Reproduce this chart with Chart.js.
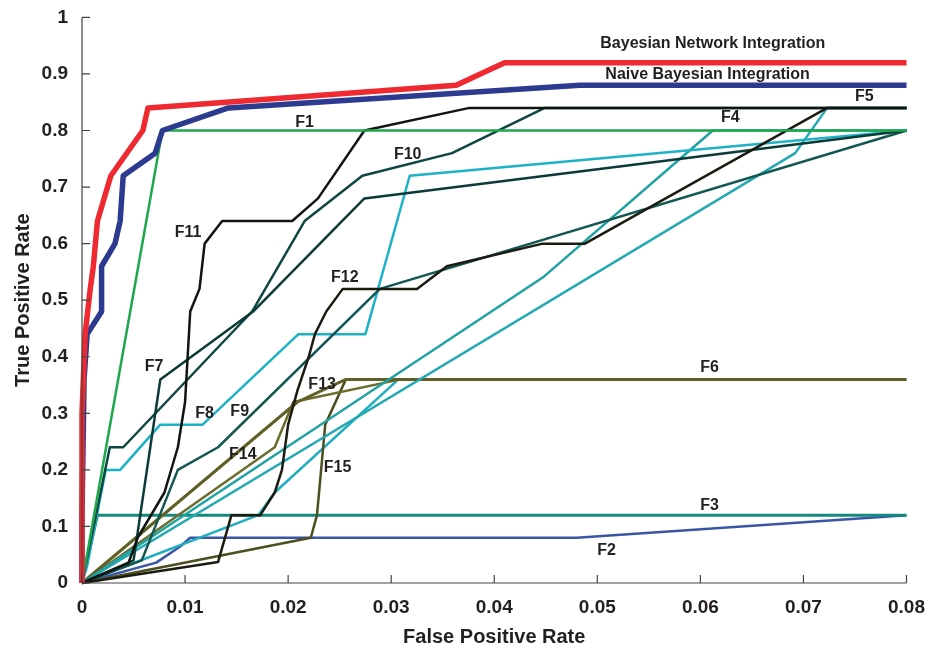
<!DOCTYPE html>
<html>
<head>
<meta charset="utf-8">
<script src="https://cdn.jsdelivr.net/npm/chart.js@4.4.1/dist/chart.umd.min.js"></script>
<style>
  html, body { margin: 0; padding: 0; background: #fff; }
  #wrap { width: 930px; height: 649px; }
</style>
</head>
<body>
<div id="wrap"><canvas id="roc" width="930" height="649"></canvas></div>
<script>
// ROC curves, FPR on x, TPR on y
const bniFpr = [0, 0, 0.0003, 0.0008, 0.0011, 0.0015, 0.0028, 0.0059, 0.0064, 0.0363, 0.041, 0.08];
const bniTpr = [0, 0.30, 0.44, 0.52, 0.56, 0.64, 0.72, 0.80, 0.84, 0.88, 0.92, 0.92];
const nbiFpr = [0, 0, 0.0002, 0.0005, 0.0019, 0.0019, 0.0032, 0.0037, 0.004, 0.0071, 0.0078, 0.0142, 0.0483, 0.08];
const nbiTpr = [0, 0.12, 0.36, 0.44, 0.48, 0.56, 0.60, 0.64, 0.72, 0.76, 0.80, 0.84, 0.88, 0.88];

const f1Fpr = [0, 0.0078, 0.08];
const f1Tpr = [0, 0.80, 0.80];
const f2Fpr = [0, 0.0072, 0.0095, 0.0105, 0.048, 0.08];
const f2Tpr = [0, 0.036, 0.064, 0.08, 0.08, 0.12];
const f3Fpr = [0, 0.0015, 0.08];
const f3Tpr = [0, 0.12, 0.12];
const f4Fpr = [0, 0.0447, 0.0612, 0.08];
const f4Tpr = [0, 0.54, 0.80, 0.80];
const f5Fpr = [0, 0.0692, 0.0723, 0.08];
const f5Tpr = [0, 0.76, 0.84, 0.84];
const f6Fpr = [0, 0.0171, 0.0187, 0.0307, 0.08];
const f6Tpr = [0, 0.12, 0.16, 0.36, 0.36];
const f7Fpr = [0, 0.005, 0.0076, 0.0166, 0.0274, 0.08];
const f7Tpr = [0, 0.04, 0.36, 0.48, 0.68, 0.80];
const f8Fpr = [0, 0.0005, 0.0023, 0.0037, 0.0076, 0.0117, 0.021, 0.0275, 0.0318, 0.08];
const f8Tpr = [0, 0.03, 0.20, 0.20, 0.28, 0.28, 0.44, 0.44, 0.72, 0.80];
const f9Fpr = [0, 0.0058, 0.0093, 0.0132, 0.0289, 0.08];
const f9Tpr = [0, 0.04, 0.20, 0.24, 0.52, 0.80];
const f10Fpr = [0, 0.0027, 0.004, 0.0165, 0.0216, 0.0272, 0.0359, 0.0449, 0.08];
const f10Tpr = [0, 0.24, 0.24, 0.48, 0.64, 0.72, 0.76, 0.84, 0.84];
const f11Fpr = [0, 0.0045, 0.0054, 0.008, 0.0093, 0.01, 0.0105, 0.0114, 0.0119, 0.0136, 0.0204, 0.0229, 0.0274, 0.0376, 0.08];
const f11Tpr = [0, 0.035, 0.08, 0.16, 0.24, 0.32, 0.48, 0.52, 0.60, 0.64, 0.64, 0.68, 0.80, 0.84, 0.84];
const f12Fpr = [0, 0.0132, 0.0145, 0.0173, 0.0187, 0.0194, 0.02, 0.0209, 0.022, 0.0226, 0.0237, 0.0253, 0.0325, 0.0354, 0.0447, 0.0488, 0.0723, 0.08];
const f12Tpr = [0, 0.037, 0.12, 0.12, 0.16, 0.20, 0.28, 0.34, 0.40, 0.44, 0.48, 0.52, 0.52, 0.56, 0.60, 0.60, 0.84, 0.84];
const f13Fpr = [0, 0.0209, 0.0256, 0.08];
const f13Tpr = [0, 0.32, 0.36, 0.36];
const f14Fpr = [0, 0.0187, 0.0205, 0.0309];
const f14Tpr = [0, 0.24, 0.32, 0.36];
const f15Fpr = [0, 0.0222, 0.0228, 0.0236, 0.0256];
const f15Tpr = [0, 0.08, 0.12, 0.28, 0.36];

const xTicks = [0, 0.01, 0.02, 0.03, 0.04, 0.05, 0.06, 0.07, 0.08];
const yTicks = [0, 0.1, 0.2, 0.3, 0.4, 0.5, 0.6, 0.7, 0.8, 0.9, 1];

// curve labels: text, fpr, tpr where the text sits
const labelText = ['Bayesian Network Integration', 'Naive Bayesian Integration', 'F1', 'F2', 'F3', 'F4', 'F5', 'F6', 'F7', 'F8', 'F9', 'F10', 'F11', 'F12', 'F13', 'F14', 'F15'];
const labelFpr = [0.0612, 0.0607, 0.0216, 0.0509, 0.0609, 0.0629, 0.0759, 0.0609, 0.0070, 0.0119, 0.0153, 0.0316, 0.0103, 0.0255, 0.0233, 0.0156, 0.0248];
const labelTpr = [0.954, 0.899, 0.814, 0.058, 0.136, 0.823, 0.860, 0.381, 0.382, 0.299, 0.303, 0.758, 0.619, 0.540, 0.350, 0.227, 0.204];

function pts(xs, ys) {
  return xs.map((v, i) => ({x: v, y: ys[i]}));
}

function curve(name, xs, ys, color, w) {
  return {
    label: name,
    data: pts(xs, ys),
    borderColor: color,
    borderWidth: w,
    pointRadius: 0,
    tension: 0,
    fill: false,
    clip: false,
    borderJoinStyle: 'round'
  };
}

const ink = '#231f20';
const face = '"Liberation Sans", Arial, Helvetica, sans-serif';

const overlay = {
  id: 'overlay',
  afterDraw(chart) {
    const ctx = chart.ctx;
    const xs = chart.scales.x, ys = chart.scales.y;
    const area = chart.chartArea;
    ctx.save();
    ctx.strokeStyle = '#444';
    ctx.lineWidth = 1.2;
    ctx.beginPath();
    ctx.moveTo(area.left, area.top);
    ctx.lineTo(area.left, area.bottom);
    ctx.lineTo(area.right, area.bottom);
    ctx.stroke();
    // ticks point into the plot
    ctx.beginPath();
    xTicks.forEach(v => {
      const px = xs.getPixelForValue(v);
      ctx.moveTo(px, area.bottom);
      ctx.lineTo(px, area.bottom - 8);
    });
    yTicks.forEach(v => {
      const py = ys.getPixelForValue(v);
      ctx.moveTo(area.left, py);
      ctx.lineTo(area.left + 8, py);
    });
    ctx.stroke();

    ctx.fillStyle = ink;
    ctx.textAlign = 'center';
    ctx.textBaseline = 'middle';
    ctx.font = 'bold 16px ' + face;
    labelText.forEach((t, i) => {
      ctx.fillText(t, xs.getPixelForValue(labelFpr[i]), ys.getPixelForValue(labelTpr[i]));
    });
    ctx.restore();
  }
};

const tickFont = {family: face, size: 19, weight: 'bold'};
const titleFont = {family: face, size: 20, weight: 'bold'};

new Chart(document.getElementById('roc').getContext('2d'), {
  type: 'line',
  data: {
    // first dataset is drawn on top
    datasets: [
      curve('Bayesian Network Integration', bniFpr, bniTpr, '#ee2a30', 5.5),
      curve('Naive Bayesian Integration', nbiFpr, nbiTpr, '#2c3a8f', 5.5),
      curve('F1', f1Fpr, f1Tpr, '#1ea84c', 2.5),
      curve('F11', f11Fpr, f11Tpr, '#111511', 2.5),
      curve('F12', f12Fpr, f12Tpr, '#1b1b10', 2.5),
      curve('F7', f7Fpr, f7Tpr, '#0c3a37', 2.5),
      curve('F9', f9Fpr, f9Tpr, '#135753', 2.5),
      curve('F10', f10Fpr, f10Tpr, '#0f4641', 2.5),
      curve('F8', f8Fpr, f8Tpr, '#1db2c6', 2.5),
      curve('F4', f4Fpr, f4Tpr, '#1fa3a2', 2.5),
      curve('F5', f5Fpr, f5Tpr, '#22a9b3', 2.5),
      curve('F13', f13Fpr, f13Tpr, '#5f5f26', 3),
      curve('F14', f14Fpr, f14Tpr, '#6c6c2e', 2.5),
      curve('F15', f15Fpr, f15Tpr, '#4d4e1e', 2.5),
      curve('F6', f6Fpr, f6Tpr, '#20adbf', 2.5),
      curve('F3', f3Fpr, f3Tpr, '#128a80', 3),
      curve('F2', f2Fpr, f2Tpr, '#3b55a6', 2.5)
    ]
  },
  options: {
    responsive: false,
    animation: false,
    layout: {padding: {top: 14, right: 17, left: 0, bottom: 0}},
    plugins: {legend: {display: false}, tooltip: {enabled: false}},
    scales: {
      x: {
        type: 'linear',
        min: 0, max: 0.08,
        afterFit: s => { s.height = 66; },
        afterBuildTicks: s => { s.ticks = xTicks.map(v => ({value: v})); },
        grid: {display: false},
        border: {display: false},
        ticks: {color: ink, font: tickFont, padding: 5, maxRotation: 0, callback: v => +v.toFixed(2)},
        title: {display: true, text: 'False Positive Rate', color: ink, font: titleFont, padding: {top: 0, bottom: 0}}
      },
      y: {
        min: 0, max: 1,
        afterFit: s => { s.width = 82; },
        afterBuildTicks: s => { s.ticks = yTicks.map(v => ({value: v})); },
        grid: {display: false},
        border: {display: false},
        ticks: {color: ink, font: tickFont, padding: 6, callback: v => +v.toFixed(1)},
        title: {display: true, text: 'True Positive Rate', color: ink, font: titleFont, padding: {top: 11, bottom: 0}}
      }
    }
  },
  plugins: [overlay]
});
</script>
</body>
</html>
